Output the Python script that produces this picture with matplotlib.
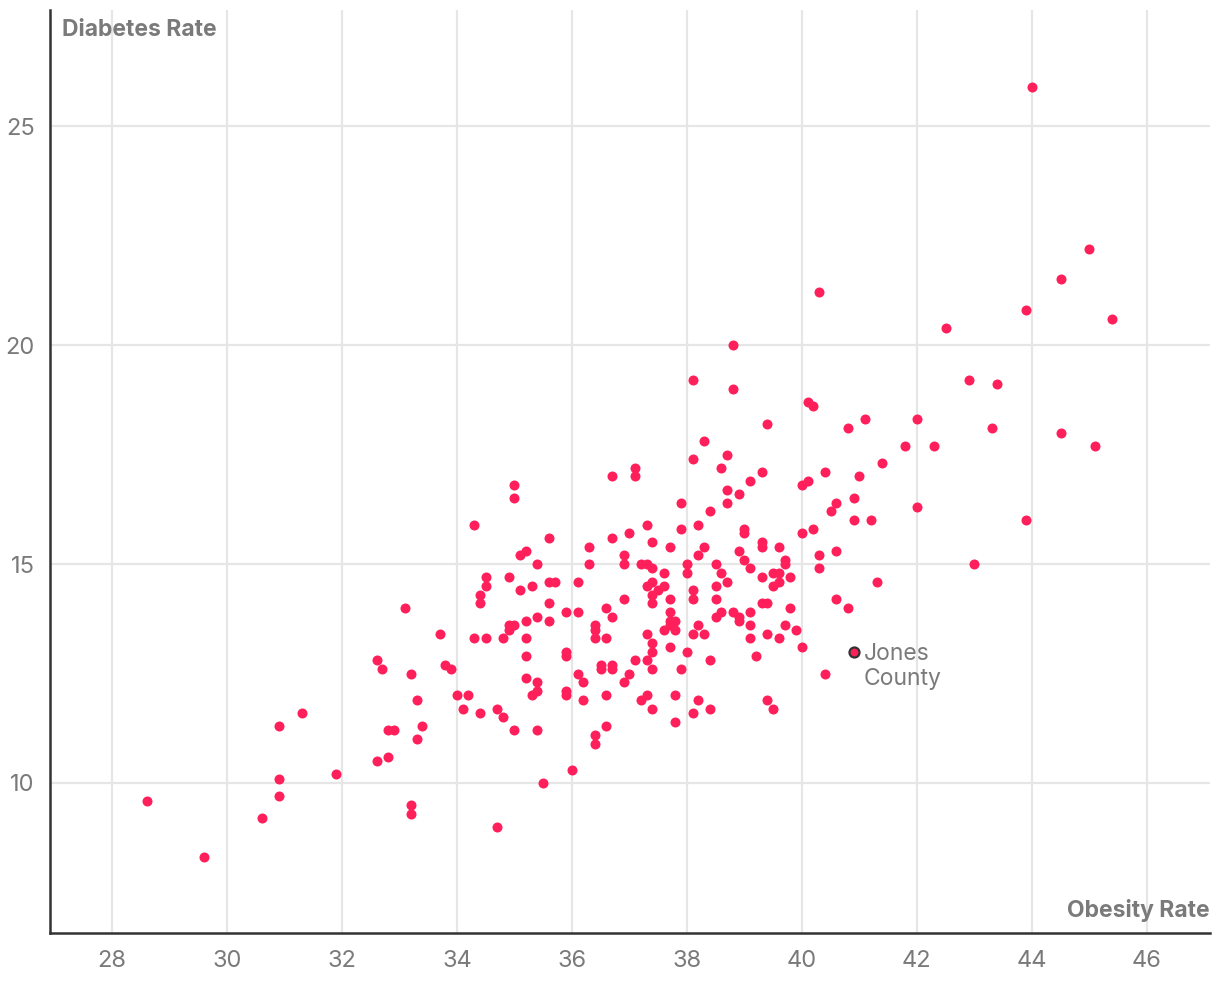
import matplotlib
matplotlib.use("Agg")
import matplotlib.pyplot as plt

plt.rcParams['font.family'] = ['Inter', 'DejaVu Sans']

obesity = [
    28.6, 29.6, 30.6, 30.9, 30.9, 30.9, 31.3, 31.9, 32.6, 32.7, 32.6, 32.8, 32.9, 32.8,
    33.1, 33.2, 33.2, 33.2, 33.3, 33.3, 33.4, 33.7, 33.8, 33.9, 34.0, 34.2, 34.1, 34.4,
    34.7, 34.8, 35.0, 35.4, 34.7, 35.5, 36.0,
    34.3, 35.0, 35.0, 35.6, 35.1, 35.2, 35.4, 36.3, 36.3, 36.7, 37.0, 36.9, 36.9, 34.5,
    34.5, 34.4, 34.4, 34.9, 35.1, 35.3, 35.6, 35.7, 36.1, 35.6, 35.4, 35.2, 35.6, 35.9,
    36.1, 34.9, 35.0, 34.9, 34.3, 34.5, 34.8, 35.2, 35.2, 35.9, 35.9, 36.6, 36.7, 36.9,
    36.4, 36.4, 36.4, 36.6,
    35.2, 35.4, 35.3, 35.4, 35.9, 35.9, 36.1, 36.2, 36.2, 36.5, 36.5, 36.7, 36.7, 36.9,
    37.0, 36.6, 36.6, 36.4, 36.4, 36.7,
    38.3, 38.1, 38.7, 38.6, 37.1, 37.1, 39.3, 39.1, 38.7, 38.9, 38.7, 37.9, 40.0, 40.1,
    40.4, 40.6, 40.5, 38.4, 37.9, 38.2, 37.3, 37.4, 37.7, 38.3, 38.2, 39.0, 39.0, 39.3,
    39.3, 39.6, 38.9, 39.0, 40.0, 40.2, 40.6, 40.3, 40.3, 39.7, 39.7, 39.1, 37.2, 37.3,
    37.4, 37.6, 38.0, 38.0, 38.5, 38.6, 38.7, 38.5, 39.3, 39.5, 39.6, 39.5, 39.6, 39.8,
    37.3, 37.4, 37.5, 37.6, 37.4, 37.4, 37.7, 38.1, 38.1, 38.5, 39.3, 39.4, 39.8, 40.6,
    37.7, 37.7, 37.7, 37.8, 37.6, 37.8, 37.3, 37.4, 37.4, 37.7, 38.0, 38.2, 38.1, 38.3,
    38.5, 38.6, 38.8, 38.9, 38.9, 39.1, 39.1, 39.1, 39.4, 39.6, 39.7, 39.9, 40.0, 39.2,
    40.4, 37.1, 37.3, 37.4, 37.9, 38.4, 37.2, 37.3, 37.4, 37.8, 37.8, 38.2, 38.1, 38.4,
    39.4, 39.5,
    42.9, 43.4, 41.1, 40.8, 42.0, 43.3, 41.8, 42.3, 44.5, 45.1, 41.4, 41.0, 40.9, 40.9,
    41.2, 42.0, 43.9, 43.0, 41.3, 40.8,
    40.3, 38.8, 38.1, 38.8, 40.1, 40.2, 39.4,
    44.0, 45.0, 44.5, 43.9, 45.4, 42.5,
]
diabetes = [
    9.6, 8.3, 9.2, 11.3, 10.1, 9.7, 11.6, 10.2, 12.8, 12.6, 10.5, 11.2, 11.2, 10.6,
    14.0, 12.5, 9.5, 9.3, 11.9, 11.0, 11.3, 13.4, 12.7, 12.6, 12.0, 12.0, 11.7, 11.6,
    11.7, 11.5, 11.2, 11.2, 9.0, 10.0, 10.3,
    15.9, 16.8, 16.5, 15.6, 15.2, 15.3, 15.0, 15.4, 15.0, 15.6, 15.7, 15.2, 15.0, 14.7,
    14.5, 14.3, 14.1, 14.7, 14.4, 14.5, 14.6, 14.6, 14.6, 14.1, 13.8, 13.7, 13.7, 13.9,
    13.9, 13.6, 13.6, 13.5, 13.3, 13.3, 13.3, 13.3, 12.9, 13.0, 12.9, 14.0, 13.8, 14.2,
    13.6, 13.5, 13.3, 13.3,
    12.4, 12.3, 12.0, 12.1, 12.1, 12.0, 12.5, 12.3, 11.9, 12.7, 12.6, 12.7, 12.6, 12.3,
    12.5, 12.0, 11.3, 11.1, 10.9, 17.0,
    17.8, 17.4, 17.5, 17.2, 17.2, 17.0, 17.1, 16.9, 16.7, 16.6, 16.4, 16.4, 16.8, 16.9,
    17.1, 16.4, 16.2, 16.2, 15.8, 15.9, 15.9, 15.5, 15.4, 15.4, 15.2, 15.8, 15.7, 15.5,
    15.4, 15.4, 15.3, 15.1, 15.7, 15.8, 15.3, 15.2, 14.9, 15.1, 15.0, 14.9, 15.0, 15.0,
    14.9, 14.8, 15.0, 14.8, 15.0, 14.8, 14.6, 14.5, 14.7, 14.8, 14.8, 14.5, 14.6, 14.7,
    14.5, 14.6, 14.4, 14.5, 14.3, 14.1, 14.2, 14.4, 14.2, 14.2, 14.1, 14.1, 14.0, 14.2,
    13.9, 13.7, 13.6, 13.7, 13.5, 13.5, 13.4, 13.2, 13.0, 13.1, 13.0, 13.6, 13.4, 13.4,
    13.8, 13.9, 13.9, 13.8, 13.7, 13.9, 13.6, 13.3, 13.4, 13.3, 13.6, 13.5, 13.1, 12.9,
    12.5, 12.8, 12.8, 12.6, 12.6, 12.8, 11.9, 12.0, 11.7, 12.0, 11.4, 11.9, 11.6, 11.7,
    11.9, 11.7,
    19.2, 19.1, 18.3, 18.1, 18.3, 18.1, 17.7, 17.7, 18.0, 17.7, 17.3, 17.0, 16.5, 16.0,
    16.0, 16.3, 16.0, 15.0, 14.6, 14.0,
    21.2, 20.0, 19.2, 19.0, 18.7, 18.6, 18.2,
    25.9, 22.2, 21.5, 20.8, 20.6, 20.4,
]

highlight_name = "Jones\nCounty"
highlight_x = 40.9
highlight_y = 13.0

x_ticks = [28, 30, 32, 34, 36, 38, 40, 42, 44, 46]
y_ticks = [10, 15, 20, 25]

POINT = '#FF1F5B'
GREY = '#7a7a7a'

fig = plt.figure(figsize=(12.2, 10.06), dpi=100)
ax = fig.add_axes([50/1220, 1 - 933/1006, 1160/1220, 923/1006])

ax.scatter(obesity, diabetes, s=52, color=POINT, linewidths=0, zorder=3)
ax.scatter([highlight_x], [highlight_y], s=52, color=POINT, edgecolors='#333333',
           linewidths=1.6, zorder=4)
ax.annotate(highlight_name, xy=(highlight_x, highlight_y), xytext=(10, 9),
            textcoords='offset pixels', fontsize=16.5, color=GREY,
            va='top', ha='left', linespacing=1.2, zorder=5)

ax.set_xlim(26.92, 47.10)
ax.set_ylim(6.575, 27.65)
ax.set_xticks(x_ticks)
ax.set_yticks(y_ticks)
ax.grid(True, color='#e6e6e6', linewidth=1.6, zorder=0)
ax.set_axisbelow(True)
ax.tick_params(length=0, labelsize=17, labelcolor=GREY)
ax.tick_params(axis='x', pad=12)
ax.tick_params(axis='y', pad=11)
for side in ('top', 'right'):
    ax.spines[side].set_visible(False)
for side in ('left', 'bottom'):
    ax.spines[side].set_color('#333333')
    ax.spines[side].set_linewidth(1.8)

ax.text(0.010, 0.99, "Diabetes Rate", transform=ax.transAxes, ha='left', va='top',
        fontsize=16.5, fontweight='bold', color=GREY)
ax.text(1.0, 0.012, "Obesity Rate", transform=ax.transAxes, ha='right', va='bottom',
        fontsize=16.5, fontweight='bold', color=GREY)

fig.savefig('out.png', dpi=100, facecolor='white')
